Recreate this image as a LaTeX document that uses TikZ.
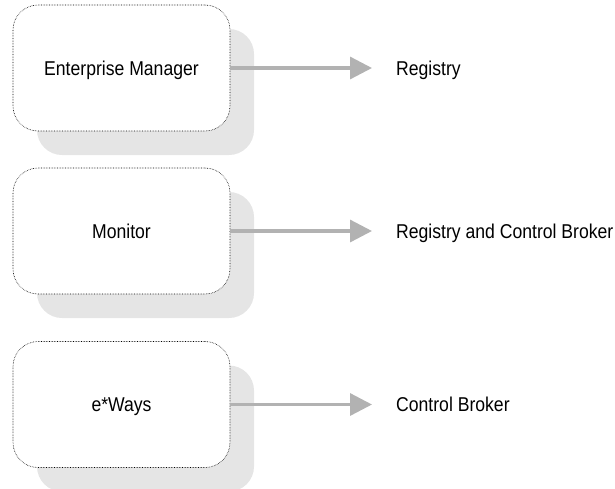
\documentclass[tikz,border=0pt]{standalone}
\usepackage{fontspec}
\setmainfont{Liberation Sans}[FakeStretch=0.88]
\usetikzlibrary{arrows.meta,shadows}

\begin{document}
\begin{tikzpicture}[x=1pt,y=-1pt,
  proc/.style={draw=black,densely dotted,line width=0.6pt,rounded corners=25pt,fill=white,
    minimum width=217pt,minimum height=126pt,inner sep=0pt,
    text height=14.3pt,text depth=0pt,font=\fontsize{20}{24}\selectfont,
    drop shadow={shadow xshift=24pt,shadow yshift=-24pt,fill=black!10,opacity=1}},
  dest/.style={anchor=west,inner xsep=24pt,inner ysep=0pt,
    text height=14.3pt,text depth=0pt,font=\fontsize{20}{24}\selectfont},
  flow/.style={draw=black!30,line width=3.3pt,-{Triangle[length=22pt,width=22pt]}}]
\useasboundingbox (0,0) rectangle (615,488);
\node[proc](em) at(121.5,68){Enterprise Manager};
\node[proc](mon) at(121.5,231){Monitor};
\node[proc](ew) at(121.5,404.5){e*Ways};
\node[dest](reg) at(372,68){Registry};
\node[dest](regcb) at(372,231){Registry and Control Broker};
\node[dest](cb) at(372,404.5){Control Broker};
\draw[flow](em)--(reg);
\draw[flow](mon)--(regcb);
\draw[flow](ew)--(cb);
\end{tikzpicture}
\end{document}
